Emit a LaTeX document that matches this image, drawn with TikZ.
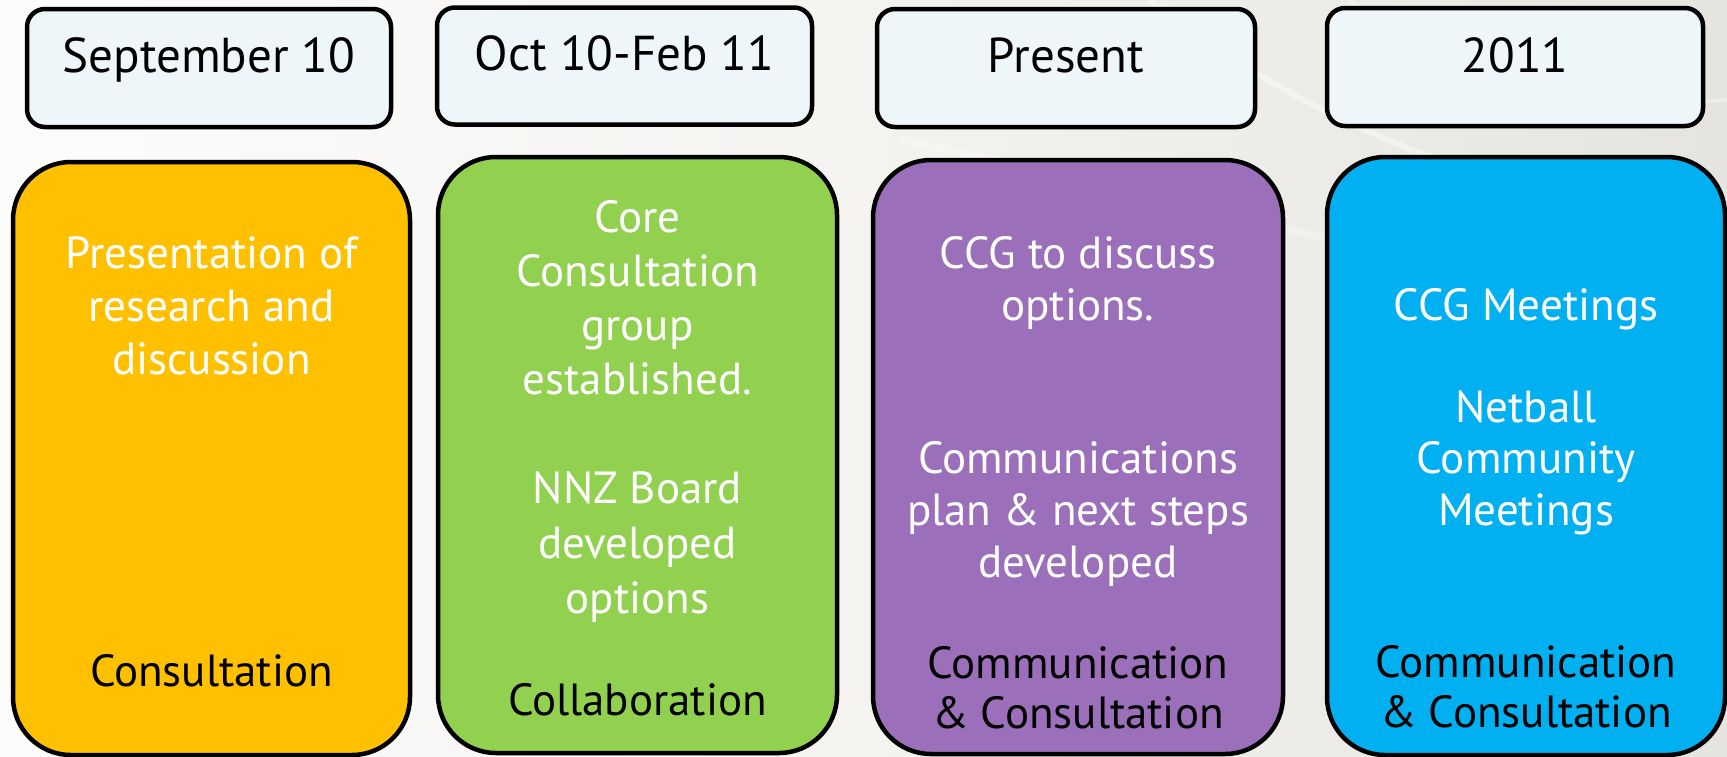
\documentclass[tikz,border=0pt]{standalone}
\usepackage{fontspec}
\setmainfont{PT Sans}
\definecolor{bgleft}{HTML}{FCFCFB}
\definecolor{bgmid}{HTML}{F4F3F0}
\definecolor{bgright}{HTML}{E6E4DF}
\definecolor{topfill}{HTML}{EFF6F9}
\definecolor{cyellow}{HTML}{FFC000}
\definecolor{cgreen}{HTML}{92D050}
\definecolor{cpurple}{HTML}{9B6FB9}
\definecolor{cblue}{HTML}{00B0F0}
\begin{document}
\begin{tikzpicture}[x=1pt,y=-1pt,
  topbox/.style={draw=black, line width=4.5pt, rounded corners=18pt, fill=topfill,
    minimum width=#1, minimum height=118pt, inner sep=0pt},
  bigbox/.style={draw=black, line width=4.5pt, rounded corners=58pt, inner sep=0pt},
  wtxt/.style={text=white, font=\fontsize{45}{54}\selectfont, anchor=base, inner sep=0pt},
  btxt/.style={wtxt, text=black},
  ltxt/.style={btxt, font=\fontsize{49}{56}\selectfont}]
\useasboundingbox (0,0) rectangle (1727,756);
\fill[left color=bgleft, right color=bgright, middle color=bgmid] (0,0) rectangle (1727,756);
% faint swooshes
\draw[white, opacity=0.4, line width=6pt] (1150,0) .. controls (1300,120) and (1500,200) .. (1727,230);
\draw[white, opacity=0.3, line width=4pt] (1350,0) .. controls (1450,80) and (1600,110) .. (1727,100);
\draw[white, opacity=0.25, line width=8pt] (900,140) .. controls (1100,180) and (1400,260) .. (1727,330);

% top boxes
\node[topbox=364pt] (t1) at (209,68) {};
\node[topbox=375pt, minimum height=117pt] (t2) at (624.5,66) {};
\node[topbox=378pt] (t3) at (1066,68) {};
\node[topbox=376pt] (t4) at (1515,67) {};
\node[ltxt] (t1l) at (t1.center |- 0,72) {September 10};
\node[ltxt] (t2l) at (t2.center |- 0,70) {Oct 10-Feb 11};
\node[ltxt] (t3l) at (t3.center |- 0,72) {Present};
\node[ltxt] (t4l) at (t4.center |- 0,72) {2011};

% big boxes
\node[bigbox, fill=cyellow, minimum width=397pt, minimum height=593pt] (b1) at (211.5,458.5) {};
\node[bigbox, fill=cgreen, minimum width=399pt, minimum height=596pt] (b2) at (637.5,455) {};
\node[bigbox, fill=cpurple, minimum width=410pt, minimum height=594pt] (b3) at (1078,457) {};
\node[bigbox, fill=cblue, minimum width=398pt, minimum height=598pt] (b4) at (1526,456) {};

% box 1 text
\foreach \t [count=\i] in {Presentation of, research and, discussion}
  \node[wtxt] (b1w\i) at (b1.center |- 0,{268+53*(\i-1)}) {\t};
\node[btxt] (b1k) at (b1.center |- 0,686) {Consultation};

% box 2 text
\foreach \t [count=\i] in {Core, Consultation, group, established.}
  \node[wtxt] (b2w\i) at (b2.center |- 0,{232+54.3*(\i-1)}) {\t};
\foreach \t [count=\i] in {NNZ Board, developed, options}
  \node[wtxt] (b2v\i) at (b2.center |- 0,{503+55*(\i-1)}) {\t};
\node[btxt] (b2k) at (b2.center |- 0,715) {Collaboration};

% box 3 text
\foreach \t [count=\i] in {CCG to discuss, options.}
  \node[wtxt] (b3w\i) at (b3.center |- 0,{268+52*(\i-1)}) {\t};
\foreach \t [count=\i] in {Communications, plan \& next steps, developed}
  \node[wtxt] (b3v\i) at (b3.center |- 0,{473+52*(\i-1)}) {\t};
\node[btxt] (b3k1) at (b3.center |- 0,678) {Communication};
\node[btxt] (b3k2) at (b3.center |- 0,728) {\& Consultation};

% box 4 text
\node[wtxt] (b4w1) at (b4.center |- 0,320) {CCG Meetings};
\foreach \t [count=\i] in {Netball, Community, Meetings}
  \node[wtxt] (b4v\i) at (b4.center |- 0,{422+51.5*(\i-1)}) {\t};
\node[btxt] (b4k1) at (b4.center |- 0,677) {Communication};
\node[btxt] (b4k2) at (b4.center |- 0,727) {\& Consultation};
\end{tikzpicture}
\end{document}
